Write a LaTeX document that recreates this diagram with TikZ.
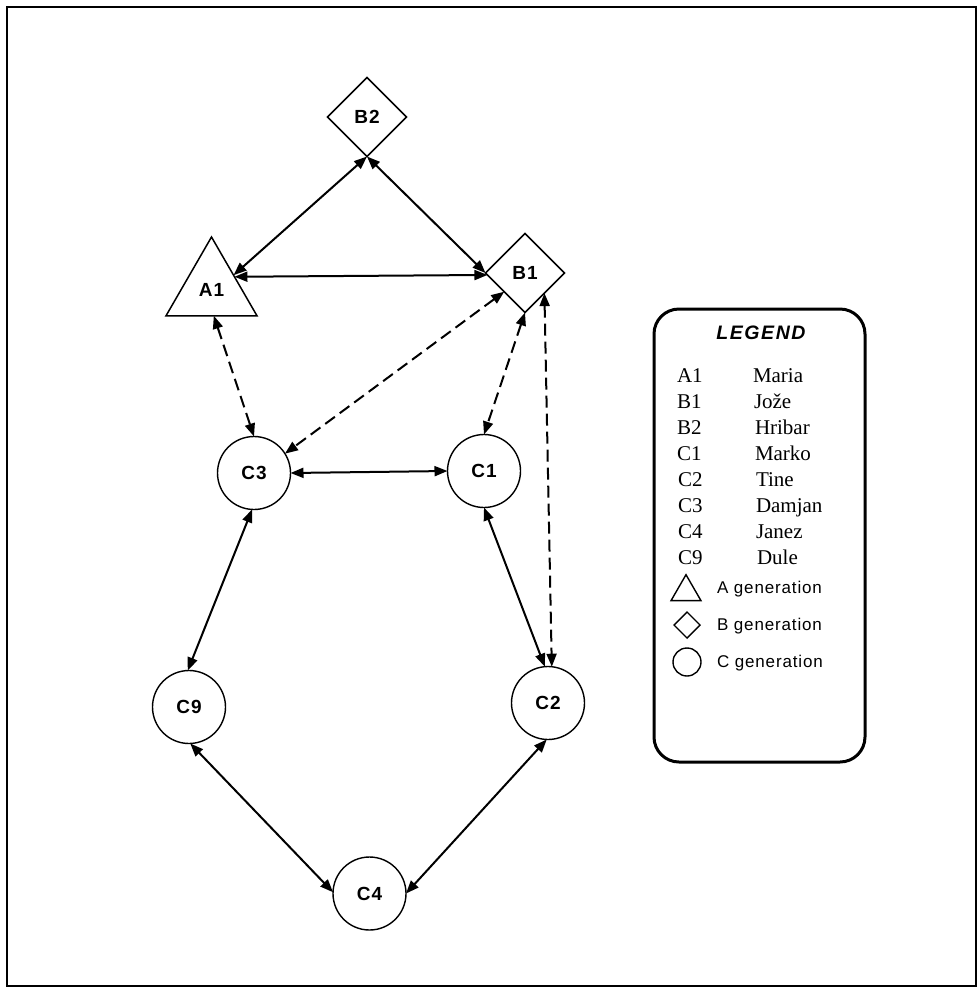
\documentclass[tikz,border=0pt]{standalone}
\usepackage{fontspec}
\setmainfont{Liberation Serif}
\setsansfont{Liberation Sans}
\newfontfamily\lblfont{Liberation Sans}[LetterSpace=6]
\newfontfamily\genfont{Liberation Sans}[LetterSpace=5]
\newfontfamily\legfont{Liberation Sans}[LetterSpace=8]
\usetikzlibrary{shapes.geometric,arrows.meta}
\begin{document}
\begin{tikzpicture}[x=1pt,y=-1pt,
  every node/.style={inner sep=0pt, outer sep=0pt},
  lbl/.style={font=\lblfont\bfseries\fontsize{19}{21}\selectfont},
  diam/.style={diamond, draw, line width=1.5pt, minimum size=79pt, lbl},
  tri/.style={regular polygon, regular polygon sides=3, draw, line width=1.5pt, minimum size=105pt, lbl},
  circ/.style={circle, draw, line width=1.4pt, minimum size=73pt, lbl},
  link/.style={line width=2pt, {Triangle[length=13pt,width=10pt]}-{Triangle[length=13pt,width=10pt]}},
  dlink/.style={link, dash pattern=on 12pt off 6pt},
  code/.style={anchor=base west, font=\rmfamily\fontsize{21}{24}\selectfont},
  gen/.style={anchor=base west, font=\genfont\fontsize{17}{20}\selectfont},
  lsym/.style={draw, line width=1.4pt}
]
\useasboundingbox (0,0) rectangle (979,989);
\draw[line width=2.5pt] (7,7) rectangle (976,986);

% nodes
\node[diam] (B2) at (367,117) {B2};
\node[diam] (B1) at (525,273) {B1};
\node[tri] (A1) at (211.5,289.5) {A1};
\node[circ] (C3) at (254,473) {C3};
\node[circ] (C1) at (484,471) {C1};
\node[circ] (C9) at (189,707) {C9};
\node[circ] (C2) at (548,703) {C2};
\node[circ] (C4) at (369.5,893.5) {C4};

% connectors
\draw[link] (B2.south) -- (A1.33);
\draw[link] (B2.south) -- (B1.west);
\draw[link] (A1.29) -- (B1.183);
\draw[dlink] (A1.-85) -- (C3.north);
\draw[dlink] (B1.222) -- (C3.32);
\draw[dlink] (B1.south) -- (C1.north);
\draw[dlink] (B1.-46) -- (C2.84);
\draw[link] (C3.east) -- (C1.west);
\draw[link] (C3.-93) -- (C9.92);
\draw[link] (C1.south) -- (C2.95);
\draw[link] (C9.-88) -- (C4.178);
\draw[link] (C2.-92) -- (C4.east);

% legend
\node[draw, rounded corners=25pt, line width=3pt, minimum width=211pt, minimum height=453pt] (legend) at (759.5,535.5) {};
\node[anchor=base, font=\legfont\bfseries\itshape\fontsize{19.5}{22}\selectfont] (ltitle) at (761,339) {LEGEND};

\node[code] (kA1) at (677,382) {A1};  \node[code] (nA1) at (753,382) {Maria};
\node[code] (kB1) at (677,408) {B1};  \node[code] (nB1) at (754,408) {Jože};
\node[code] (kB2) at (677,434) {B2};  \node[code] (nB2) at (755,434) {Hribar};
\node[code] (kC1) at (677,460) {C1};  \node[code] (nC1) at (755,460) {Marko};
\node[code] (kC2) at (678,486) {C2};  \node[code] (nC2) at (756,486) {Tine};
\node[code] (kC3) at (678,512) {C3};  \node[code] (nC3) at (756,512) {Damjan};
\node[code] (kC4) at (678,538) {C4};  \node[code] (nC4) at (756,538) {Janez};
\node[code] (kC9) at (678,564) {C9};  \node[code] (nC9) at (757,564) {Dule};

\node[lsym, regular polygon, regular polygon sides=3, minimum size=34.6pt] (ltri) at (686,592) {};
\node[lsym, diamond, minimum size=26pt] (ldiam) at (687,625) {};
\node[lsym, circle, minimum size=28pt] (lcirc) at (687,662) {};
\node[gen] (gA) at (717,593) {A generation};
\node[gen] (gB) at (717,630) {B generation};
\node[gen] (gC) at (717,667) {C generation};
\end{tikzpicture}
\end{document}
